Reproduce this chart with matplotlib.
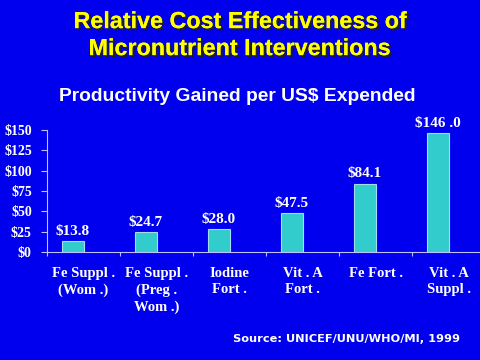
import matplotlib
matplotlib.use('Agg')
import matplotlib.pyplot as plt
import matplotlib.patheffects as pe
import numpy as np

categories = ['Fe Suppl .\n(Wom .)', 'Fe Suppl .\n(Preg .\nWom .)', 'Iodine\nFort .',
              'Vit . A\nFort .', 'Fe Fort .', 'Vit . A\nSuppl .']
values = [13.8, 24.7, 28.0, 47.5, 84.1, 146.0]
value_labels = ['$13.8', '$24.7', '$28.0', '$47.5', '$84.1', '$146 .0']
yticks = [0, 25, 50, 75, 100, 125, 150]
ytick_labels = ['$0', '$25', '$50', '$75', '$100', '$125', '$150']

bg = '#0000EE'
serif = 'Liberation Serif'
sans = 'Liberation Sans'

fig = plt.figure(figsize=(4.8, 3.6), dpi=100)
fig.patch.set_facecolor(bg)

# title with dark drop shadow
shadow = [pe.withSimplePatchShadow(offset=(1.5, -1.5), shadow_rgbFace='#202020', alpha=1.0), pe.Normal()]
fig.text(0.5, 0.94, 'Relative Cost Effectiveness of', ha='center', va='center',
         color='#FFFF00', fontsize=16.8, fontweight='bold', family=sans, path_effects=shadow)
fig.text(0.5, 0.865, 'Micronutrient Interventions', ha='center', va='center',
         color='#FFFF00', fontsize=16.8, fontweight='bold', family=sans, path_effects=shadow)
fig.text(0.494, 0.732, 'Productivity Gained per US$ Expended', ha='center', va='center',
         color='white', fontsize=13.9, fontweight='bold', family=sans)
fig.text(0.722, 0.058, 'Source: UNICEF/UNU/WHO/MI, 1999', ha='center', va='center',
         color='white', fontsize=8.2, fontweight='bold', family='DejaVu Sans')

ax = fig.add_axes([0.098, 0.3, 0.9125, 0.339])
ax.set_facecolor(bg)

x = np.arange(len(values))
ax.bar(x + 0.355, values, width=0.29, color='#33CCCC', edgecolor='#A0E0F0', linewidth=0.8)

for xi, v, lab in zip(x, values, value_labels):
    ax.text(xi + 0.355, v + 4, lab, ha='center', va='bottom', color='white',
            fontsize=11, fontweight='bold', family=serif)

ax.set_xlim(0, len(values))
ax.set_ylim(0, 150)
ax.set_yticks(yticks)
ax.set_yticklabels(ytick_labels, family=serif, fontweight='bold', fontsize=10, color='white')
ax.set_xticks(np.arange(len(values) + 1))
ax.set_xticklabels([])
ax.set_xticks(x + 0.5, minor=True)
ax.set_xticklabels(categories, minor=True, family=serif, fontweight='bold',
                   fontsize=10.5, color='white', linespacing=1.32, va='top')
ax.tick_params(axis='x', which='minor', length=0, pad=11)
ax.tick_params(axis='x', which='major', length=3, color='#C0C0FF', direction='out')
ax.tick_params(axis='y', length=4, color='#C0C0FF', pad=7)

for s in ['top', 'right']:
    ax.spines[s].set_visible(False)
for s in ['left', 'bottom']:
    ax.spines[s].set_color('#C0C0FF')
    ax.spines[s].set_linewidth(0.8)

fig.savefig('out.png', dpi=100, facecolor=bg)
